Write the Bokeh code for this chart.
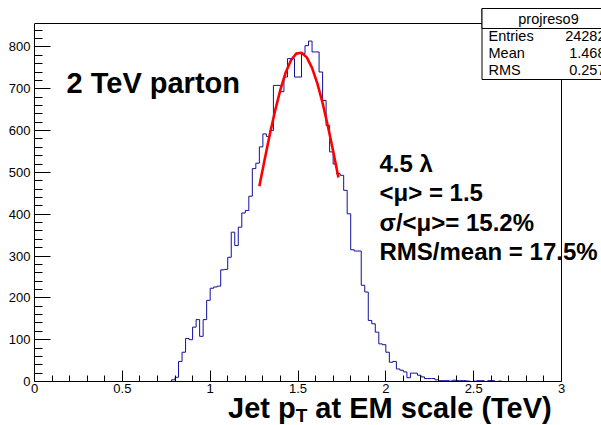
from bokeh.plotting import figure
from bokeh.layouts import column
from bokeh.models import Range1d, SingleIntervalTicker, Label, BoxAnnotation, Div
from bokeh.embed import file_html
from bokeh.resources import INLINE

# ---------------- data ----------------
BIN_START = 0.76
BIN_WIDTH = 0.02
counts = [0, 4, 10, 48, 70, 103, 100, 130, 148, 108,
          148, 194, 223, 226, 228, 267, 268, 297, 357, 325,
          369, 403, 409, 443, 509, 522, 561, 592, 586, 600,
          708, 708, 693, 728, 772, 772, 728, 728, 784, 803,
          814, 788, 788, 740, 672, 612, 549, 520, 497, 493,
          457, 401, 315, 312, 312, 230, 214, 146, 138, 118,
          90, 88, 70, 46, 48, 30, 27, 23, 9, 20,
          20, 15, 11, 7, 7, 7, 4, 2, 2, 2,
          1, 3, 2, 2, 2, 1, 0, 1, 2, 2,
          0, 2, 2, 0, 1]

fit_x = [1.28, 1.31, 1.34, 1.37, 1.40, 1.43, 1.46, 1.49, 1.52, 1.55,
         1.58, 1.61, 1.64, 1.67, 1.70, 1.73]
fit_y = [467, 530, 592, 648, 698, 739, 768, 784, 786, 775,
         750, 713, 666, 611, 551, 488]

AXIS_X = (0.0, 3.0)
AXIS_Y = (0.0, 856.0)
x_tick_labels = {0: "0", 0.5: "0.5", 1: "1", 1.5: "1.5", 2: "2", 2.5: "2.5", 3: "3"}
stat_title = "projreso9"
stat_names = ["Entries", "Mean", "RMS"]
stat_values = ["24282", "1.468", "0.257"]
big_label = "2 TeV parton"
note_lines = ["4.5 \u03bb", "<\u03bc> = 1.5", "\u03c3/<\u03bc>= 15.2%", "RMS/mean = 17.5%"]
xlabel_parts = ["Jet p", "T", " at EM scale (TeV)"]

# ---------------- layout (pixels of the 601x425 window) ----------------
W, H = 601, 425
FL, FR, FT, FB = 34, 561, 23, 381      # visible ROOT frame
H_TOP = 398                           # height of the main figure
PXX = (FR - FL) / (AXIS_X[1] - AXIS_X[0])
PXY = (FB - FT) / (AXIS_Y[1] - AXIS_Y[0])


def dx(px):
    return AXIS_X[0] + (px - FL) / PXX


def dy(py):
    return AXIS_Y[0] + (FB - py) / PXY


FONT = "Liberation Sans"

# main figure: its frame reaches the top and right edges of the window so that
# the statistics box can be drawn there; axes are bounded to the ROOT frame.
p = figure(width=W, height=H_TOP, output_backend="svg", toolbar_location=None,
           x_range=Range1d(dx(FL), dx(W)), y_range=Range1d(dy(FB), dy(0)),
           min_border_left=FL, min_border_right=0,
           min_border_top=0, min_border_bottom=H_TOP - FB)
p.background_fill_color = "white"
p.border_fill_color = "white"
p.outline_line_color = None
p.xgrid.visible = False
p.ygrid.visible = False

p.xaxis.ticker = SingleIntervalTicker(interval=0.5, num_minor_ticks=5)
p.yaxis.ticker = SingleIntervalTicker(interval=100, num_minor_ticks=5)
p.xaxis.bounds = AXIS_X
p.yaxis.bounds = AXIS_Y
p.xaxis.major_label_overrides = x_tick_labels
for ax in (p.xaxis, p.yaxis):
    ax.axis_line_color = "black"
    ax.major_tick_line_color = "black"
    ax.minor_tick_line_color = "black"
    ax.major_tick_out = 0
    ax.minor_tick_out = 0
    ax.major_label_text_font = FONT
    ax.major_label_text_font_size = "13px"
    ax.major_label_text_color = "black"
p.xaxis.major_tick_in = 11
p.xaxis.minor_tick_in = 6
p.yaxis.major_tick_in = 16
p.yaxis.minor_tick_in = 8
p.xaxis.major_label_standoff = 2
p.yaxis.major_label_standoff = 4

# top and right sides of the ROOT frame
p.line(x=[AXIS_X[0], AXIS_X[1], AXIS_X[1]], y=[AXIS_Y[1], AXIS_Y[1], AXIS_Y[0]],
       line_color="black", line_width=1)

# ---------------- histogram ----------------
edges = [BIN_START + BIN_WIDTH * i for i in range(len(counts) + 1)]
step_x = [edges[0]] + edges
step_y = [0] + counts + [0]
p.step(x=step_x, y=step_y, mode="after", line_color="#10109a", line_width=1)

# ---------------- fit ----------------
p.line(x=fit_x, y=fit_y, line_color="#ff0000", line_width=2.6)

# ---------------- texts ----------------
p.add_layout(Label(x=dx(66), y=dy(82), text=big_label, text_font=FONT,
                   text_font_style="bold", text_font_size="29px",
                   text_color="black", text_baseline="middle"))
for i, line in enumerate(note_lines):
    p.add_layout(Label(x=dx(379), y=dy(163 + 29.4 * i), text=line, text_font=FONT,
                       text_font_style="bold", text_font_size="24px",
                       text_color="black", text_baseline="middle"))

# ---------------- stats box ----------------
p.add_layout(BoxAnnotation(left=dx(481.5), right=dx(660), top=dy(8), bottom=dy(79),
                           fill_color="white", fill_alpha=1.0,
                           line_color="black", line_width=1, line_alpha=1.0))
p.add_layout(BoxAnnotation(left=dx(481.5), right=dx(660), top=dy(8), bottom=dy(28),
                           fill_color="white", fill_alpha=1.0,
                           line_color="black", line_width=1, line_alpha=1.0))
p.add_layout(Label(x=dx(548), y=dy(18), text=stat_title, text_font=FONT,
                   text_font_size="14.5px", text_color="black",
                   text_align="center", text_baseline="middle"))
for i, (nm, vl) in enumerate(zip(stat_names, stat_values)):
    yy = dy(35.5 + 17.2 * i)
    p.add_layout(Label(x=dx(488), y=yy, text=nm, text_font=FONT,
                       text_font_size="14.5px", text_color="black",
                       text_align="left", text_baseline="middle"))
    p.add_layout(Label(x=dx(605), y=yy, text=vl, text_font=FONT,
                       text_font_size="14.5px", text_color="black",
                       text_align="right", text_baseline="middle"))

# ---------------- x axis title (strip below the main figure) ----------------
title_html = (
    '<div style="position:relative;width:%dpx;height:%dpx;overflow:visible;">'
    '<span style="position:absolute;left:228px;top:-4px;white-space:nowrap;'
    "font-family:'Liberation Sans',Arial,sans-serif;font-weight:bold;"
    'font-size:29px;line-height:29px;color:black;">%s'
    '<span style="font-size:19px;position:relative;top:4px;">%s</span>%s</span></div>'
    % (W, H - H_TOP, xlabel_parts[0], xlabel_parts[1], xlabel_parts[2])
)
title_div = Div(text=title_html, width=W, height=H - H_TOP, margin=(0, 0, 0, 0))

layout = column(p, title_div, spacing=0)
open("out.html", "w").write(file_html(layout, INLINE))
